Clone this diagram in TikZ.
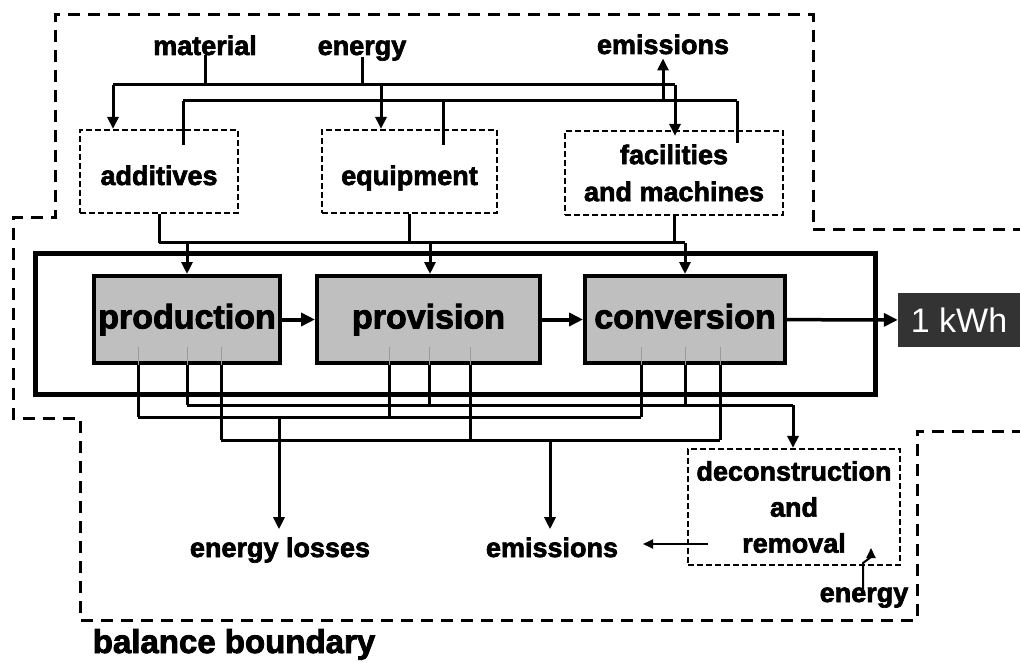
\documentclass[tikz,border=0pt]{standalone}
\usepackage{fontspec}
\setmainfont{Liberation Sans}[BoldFeatures={FakeBold=2.5}]
\usetikzlibrary{arrows.meta}
\definecolor{procgray}{HTML}{BFBFBF}
\definecolor{kwhdark}{HTML}{333333}
\definecolor{innergray}{HTML}{9A9A9A}
\begin{document}
\begin{tikzpicture}[x=1pt,y=-1pt,
  conn/.style={line width=3pt},
  arr/.style={line width=3pt,-{Triangle[length=12pt,width=11pt]}},
  thinarr/.style={line width=2pt,-{Triangle[length=10pt,width=9pt]}},
  bigarr/.style={line width=4pt,-{Triangle[length=14pt,width=13pt]}},
  boundary/.style={line width=3pt,dash pattern=on 12pt off 8pt},
  subbox/.style={draw,line width=2.2pt,dash pattern=on 6pt off 3pt,inner sep=0pt,
    font=\fontsize{27}{37}\selectfont\bfseries,align=center},
  proc/.style={draw,line width=4pt,fill=procgray,inner sep=0pt,
    minimum height=87pt,text height=25pt,text depth=7pt,
    font=\fontsize{34}{40}\selectfont\bfseries},
  lab/.style={inner sep=0pt,font=\fontsize{27}{36}\selectfont\bfseries,anchor=base},
  innerline/.style={innergray,line width=1pt}
]
\useasboundingbox (0,0) rectangle (1020,663);

% balance boundary
\draw[boundary] (1025,230) -- (813,230) -- (813,15) -- (55,15) -- (55,218)
  -- (13,218) -- (13,418) -- (80,418) -- (80,620) -- (917,620) -- (917,431) -- (1025,431);
\node[inner sep=0pt,anchor=base,font=\fontsize{33}{40}\selectfont\bfseries] (bb) at (234,653) {balance boundary};

% top labels
\node[lab] (mat) at (205,55) {material};
\node[lab] (en) at (362,55) {energy};
\node[lab] (emt) at (663,54) {emissions};

% sub boxes
\node[subbox,minimum width=158pt,minimum height=83pt,text height=27pt,text depth=0pt] (add) at (159,171.5) {additives};
\node[subbox,minimum width=175pt,minimum height=83pt,text height=27pt,text depth=0pt] (eq) at (409.5,171.5) {equipment};
\node[subbox,minimum width=218pt,minimum height=84pt] (fac) at (674,173) {facilities\\and machines};

% system boundary (solid)
\node[draw,line width=5pt,minimum width=840pt,minimum height=141pt,inner sep=0pt] (sys) at (455,323.5) {};

% process boxes
\node[proc,minimum width=186pt] (prod) at (187,319.5) {production};
\node[proc,minimum width=223pt] (prov) at (428.5,319.5) {provision};
\node[proc,minimum width=200pt] (conv) at (685,319.5) {conversion};
\node[fill=kwhdark,text=white,inner sep=0pt,minimum width=122pt,minimum height=54pt,
  text height=24pt,text depth=0pt,font=\fontsize{34}{40}\selectfont] (kwh) at (959,320) {1 kWh};

% deconstruction
\node[subbox,minimum width=212pt,minimum height=116pt,font=\fontsize{27}{36}\selectfont\bfseries] (dec) at (794,507) {deconstruction\\and\\removal};

% bottom labels
\node[lab] (eloss) at (280,557) {energy losses};
\node[lab] (emb) at (552,557) {emissions};
\node[lab] (en2) at (864,602) {energy};

% ---- top connectors
\coordinate (L1a) at (113,85);
\coordinate (L1b) at (381,85);
\coordinate (L1c) at (675,85);
\draw[conn] (mat.south) -- (mat.south |- L1a);
\draw[conn] ([yshift=4pt]en.south) -- (en.south |- L1a);
\draw[conn] (L1a) -- (L1c);
\draw[arr] (L1a) -- (L1a |- add.north);
\draw[arr] (L1b) -- (L1b |- eq.north);
\draw[arr] (L1c) -- ([yshift=-6pt]L1c |- fac.north);

\coordinate (L2a) at (183,101);
\coordinate (L2b) at (443,101);
\coordinate (L2e) at (663,101);
\coordinate (L2c) at (737,101);
\draw[conn] (L2a) -- (L2c);
\draw[conn] (L2a) -- ++(0,44);
\draw[conn] (L2b) -- ++(0,44);
\draw[conn] (L2c) -- ++(0,42);
\draw[arr] (L2e) -- ([yshift=-4pt]L2e |- emt.south);

% ---- into processes
\coordinate (Ma) at (159,243);
\coordinate (Mp) at (187,243);
\coordinate (Mq) at (430,243);
\coordinate (Mr) at (685,243);
\draw[conn] (add.south) -- (add.south |- Ma);
\draw[conn] (eq.south) -- (eq.south |- Ma);
\draw[conn] (fac.south) -- (fac.south |- Ma);
\draw[conn] (Ma) -- (Mr);
\draw[arr] (Mp) -- (Mp |- prod.north);
\draw[arr] (Mq) -- (Mq |- prov.north);
\draw[arr] (Mr) -- (Mr |- conv.north);

% ---- process chain
\draw[bigarr] (prod) -- (prov);
\draw[bigarr] (prov) -- (conv);
\draw[bigarr,line width=3.5pt] (conv) -- (kwh);

% ---- outputs below
\coordinate (A1) at (187,405);
\coordinate (A2) at (429,405);
\coordinate (A3) at (685,405);
\coordinate (A4) at (793,405);
\coordinate (B1) at (138,417);
\coordinate (B2) at (389,417);
\coordinate (B3) at (641,417);
\coordinate (Bx) at (279,417);
\coordinate (C1) at (221,440);
\coordinate (C2) at (470,440);
\coordinate (C3) at (720,440);
\coordinate (Cx) at (550,440);

\foreach \c in {A1,B1,C1} {
  \draw[innerline] (\c |- prod.south) ++(0,-18) -- (\c |- prod.south);
  \draw[conn] (\c |- prod.south) -- (\c);
}
\foreach \c in {A2,B2,C2} {
  \draw[innerline] (\c |- prov.south) ++(0,-18) -- (\c |- prov.south);
  \draw[conn] (\c |- prov.south) -- (\c);
}
\foreach \c in {A3,B3,C3} {
  \draw[innerline] (\c |- conv.south) ++(0,-18) -- (\c |- conv.south);
  \draw[conn] (\c |- conv.south) -- (\c);
}
\draw[conn] (A1) -- (A4);
\draw[conn] (B1) -- (B3);
\draw[conn] (C1) -- (C3);
\draw[arr] (A4) -- (A4 |- dec.north);
\draw[arr] (Bx) -- ([yshift=8pt]Bx |- eloss.north);
\draw[arr] (Cx) -- ([yshift=8pt]Cx |- emb.north);

% ---- deconstruction connectors
\coordinate (D1) at (708,544);
\coordinate (D2) at (643,544);
\draw[thinarr] (D1) -- (D2);
\draw[thinarr] ([yshift=-2pt]en2.north -| 863,0) -- (863,563) -- (871,557) -- (871,548);

\end{tikzpicture}
\end{document}
